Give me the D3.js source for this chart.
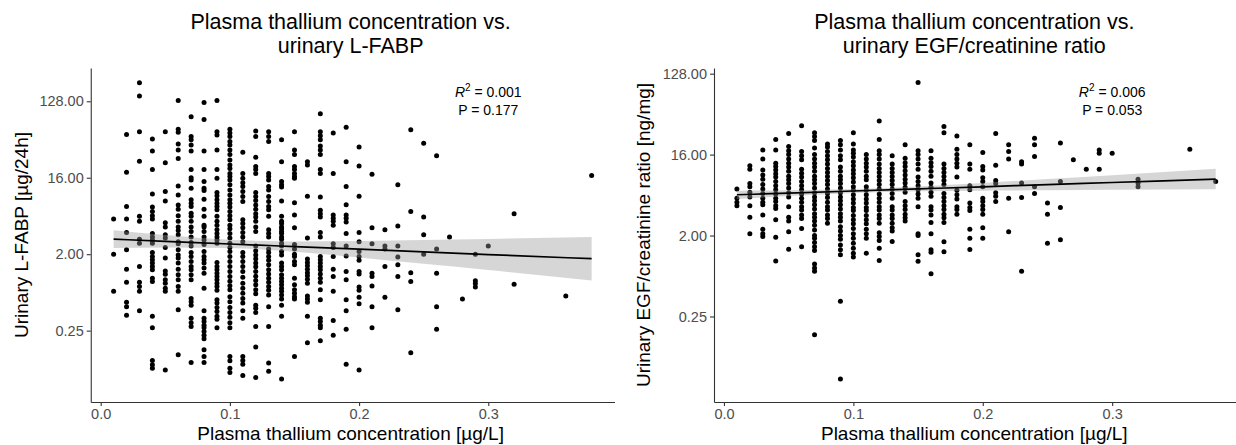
<!DOCTYPE html>
<html><head><meta charset="utf-8">
<script src="https://cdn.jsdelivr.net/npm/d3@7"></script>
<style>
body{margin:0;background:#fff}
text{font-family:"Liberation Sans",Arial,Helvetica,sans-serif}
</style>
</head><body>
<svg id="chart" width="1236" height="445"></svg>
<script>
// ---------- DATA ----------
const xTicks = [0, 0.1, 0.2, 0.3];
const yTicks = [0.25, 2, 16, 128];

// Plasma thallium concentration columns (µg/L)
const thallium = [0.01,0.02,0.03,0.04,0.05,0.06,0.07,0.08,0.09,0.10,0.11,0.12,0.13,0.14,0.15,0.16,0.17,0.18,0.19,0.20,0.21,0.22,0.23,0.24,0.25,0.26,0.27,0.28,0.29,0.30,0.32,0.36,0.38];

// Urinary L-FABP [µg/24h] per thallium column
const lfabp = [
 [5.2,2.0,0.73],
 [52,18.6,7.3,5.2,3.6,2.25,1.33,0.93,0.54,0.48,0.38],
 [212,148,56,25,5.6,4.9,3.0,2.7,1.43,0.93,0.83,0.73,0.43],
 [46,33,20,10.3,7.2,6.4,5.7,5.2,3.5,3.2,2.95,2.7,2.1,1.88,1.72,1.57,1.43,1.31,1.04,0.95,0.37,0.27,0.111,0.099,0.09],
 [56,24,11,8.5,4.7,4.2,3.4,3.1,2.4,1.8,1.27,1.16,1.0,0.91,0.79,0.73,0.086],
 [131,60,55,40,34,27,12.8,10,7.6,6.8,5.7,4.9,4.2,3.8,3.4,2.8,2.65,2.25,1.96,1.8,1.57,1.33,1.14,1.0,0.83,0.73,0.44,0.13],
 [84,49,45,39,33,20,16,15,12,8.8,8,7.3,6.1,5.6,4.9,4.2,3.7,3.2,2.75,2.5,2.1,1.88,1.64,1.43,1.31,1.14,1.0,0.6,0.55,0.5,0.35,0.31,0.28,0.105],
 [124,78,33,20,14.4,12,11.3,8.9,6.8,5.6,4.4,4.2,3.7,3.2,2.95,2.6,2.15,1.88,1.72,1.57,1.37,1.19,0.79,0.43,0.35,0.32,0.29,0.27,0.245,0.22,0.2,0.149,0.124,0.105],
 [131,56,51,34,20,15.8,10.7,9.8,8.8,8,7.3,6.7,5.6,4.9,4.4,3.9,3.5,3.2,2.95,2.7,1.6,1.43,1.31,1.19,1.09,1.0,0.91,0.83,0.75,0.58,0.53,0.47,0.42,0.37,0.34,0.27],
 [60,54,49,43,39,34,30,26,22.6,20.6,18,16.6,15,13.2,11.5,10,8.8,8,7.2,6.4,5.7,5.1,4.4,4.0,3.5,3.1,2.7,2.4,2.15,1.88,1.64,1.43,1.25,1.09,0.96,0.85,0.76,0.63,0.55,0.47,0.41,0.36,0.31,0.27,0.124,0.11,0.09,0.08],
 [32,18,15.8,14,12.6,11,9.6,8.4,5.1,4.6,4.1,3.6,3.2,2.8,2.1,1.88,1.64,1.43,1.25,1.07,0.91,0.79,0.69,0.6,0.53,0.43,0.35,0.124,0.111,0.1,0.074],
 [57,49,28,21.7,20,18,10.7,9.6,8.6,7.6,6.8,6.0,5.5,4.9,4.2,3.7,2.5,2.2,1.96,1.77,1.57,1.42,1.25,1.1,0.98,0.87,0.76,0.68,0.5,0.46,0.41,0.28,0.16,0.07],
 [56,49,43,18,16.6,15,12.6,11.5,9.6,8.4,7.3,6.7,5.6,3.9,3.5,3.2,2.3,2.1,1.88,1.7,1.5,1.31,1.17,1.04,0.93,0.83,0.75,0.66,0.48,0.28,0.104,0.083],
 [45,24.7,14.4,13.2,12.4,8.5,5.6,4.9,4.6,4.2,4.0,3.7,3.5,3.2,3.0,2.7,2.5,2.15,1.96,1.57,1.43,1.31,1.14,1.04,0.95,0.87,0.79,0.73,0.66,0.59,0.5,0.37,0.067],
 [56,34,30,21.7,20,18,16.6,15.8,8.1,5.8,4.1,2.6,2.3,2.0,1.88,1.64,1.5,1.04,0.87,0.76,0.69,0.63,0.59,0.124],
 [24.7,22.6,9.7,3.1,1.75,1.6,1.46,1.33,1.21,1.11,1.01,0.91,0.64,0.59,0.54,0.37,0.18],
 [91,56,50,45,38,34,30,20,18,9.5,6.6,6.0,5.5,3.6,3.2,1.88,1.72,1.57,1.43,1.31,1.17,1.04,0.93,0.76,0.58,0.35,0.32,0.29,0.27,0.19],
 [54,18,5.8,5.3,4.9,4.4,2.65,2.4,1.88,1.33,1.09,0.73,0.33,0.22],
 [63,24.7,12.6,7.7,5.8,5.3,4.8,3.5,2.5,1.9,1.25,1.0,0.58,0.43,0.26,0.1],
 [37,22,9.7,3.6,2.8,2.15,1.88,1.7,1.25,1.17,0.82,0.75,0.62,0.52,0.086],
 [17.6,4.1,2.65,1.19,1.09,0.84,0.48,0.27],
 [3.9,2.5,2.3,1.43,0.62],
 [13.2,4.3,2.5,1.85,1.5,1.09,0.44],
 [59,6.4,1.21,0.95,0.137],
 [41,5.5,3.4,2.0],
 [29,2.3,1.19,0.48,0.26],
 [3.2],
 [0.59],
 [2.0,0.97,0.9,0.82],
 [2.5],
 [6.0,0.88],
 [0.64],
 [17]
];

// Urinary EGF/creatinine ratio [ng/mg] per thallium column
const egf = [
 [6.6,5.2,4.7,4.3],
 [12,11,7.6,7.0,6.1,5.4,4.3,3.2,2.1],
 [18,14.3,10.8,9.5,8.5,7.4,6.6,5.9,5.2,4.7,4.4,3.4,2.35,2.1,1.95],
 [23.6,18,12.8,11.8,10.8,9.8,9.0,8.0,7.2,6.5,5.8,5.2,4.8,4.3,4.0,3.0,1.92,1.04],
 [27.6,19.7,17.7,16,14.3,12.8,11.6,10.4,9.2,8.4,7.6,6.8,6.0,5.4,4.2,3.2,2.9,2.2,1.41],
 [33.6,17.3,15.5,14,11,9.9,9.0,8.0,7.2,6.5,5.8,5.2,4.7,4.2,3.85,3.4,3.1,2.4,1.5],
 [28,25.4,23,18.9,16,14.3,12.8,11.6,10.4,9.2,8.4,7.6,6.8,6.0,5.4,4.9,4.4,3.95,3.5,3.2,2.9,2.6,2.3,2.0,1.87,1.67,1.5,1.36,0.96,0.87,0.8,0.156],
 [21,19.4,17.3,15.5,14,12.6,11.2,10.1,9.1,8.2,7.4,6.6,5.9,5.3,4.7,4.2,3.85,3.4,3.1,2.75],
 [23,20.6,18,15.5,14,11.6,10.4,9.2,8.4,7.6,6.8,6.0,5.4,4.9,4.4,3.95,3.5,3.2,2.9,2.5,2.25,2.0,1.82,1.57,1.39,1.22,0.37,0.05],
 [28,21,18,16.6,15,13.3,12,10.8,9.8,8.8,7.9,7.0,6.4,5.7,5.1,4.6,4.1,3.8,3.35,3.0,2.7,2.4,2.1,1.87,1.64,1.44,1.27,1.15],
 [16,14.3,12.8,11.6,10.4,9.2,8.4,7.0,6.4,5.7,5.1,4.6,4.1,3.8,3.35,3.0,2.7,2.35,2.1,1.87,1.27],
 [38,23.6,17.7,16,14.3,12.6,11.2,10.1,9.1,8.2,7.4,6.6,5.8,5.2,4.7,4.2,3.85,3.4,3.1,2.75,2.15,1.95,1.76,1.44,1.05],
 [15.5,12.6,11.2,10.1,9.1,8.2,7.4,6.6,5.9,5.2,4.2,3.85,3.4,3.1,2.75,2.45,2.25,1.72],
 [20.6,14.6,13,11.8,10.6,9.5,8.5,7.7,6.9,6.1,4.8,4.3,3.9,3.45,3.15,2.9],
 [102,17.7,16,14.3,12.6,11,9.0,8.0,7.2,6.5,5.8,5.2,4.2,2.1,2.0,1.22,1.03],
 [17.7,14.6,13,11.8,10.4,9.2,7.7,6.9,6.1,5.5,4.2,3.85,3.4,2.8,2.1,1.39,1.3,0.75],
 [33,28,12.6,11.2,10.1,9.1,8.2,7.4,5.9,5.3,4.8,4.3,3.9,3.45,3.15,2.8,1.71,1.32],
 [25.8,18.3,16,14.3,12.8,11.6,9.0,6.4,5.7,5.1,4.2,3.9,3.45],
 [20.6,12.6,11,7.2,6.5,4.6,4.1,3.8,2.35,1.87,1.4],
 [16.9,11.8,10.8,8.8,8.0,7.0,5.2,4.8,4.3,3.9,3.45,2.45,1.87],
 [27.6,12.2,8.2,7.6,6.0,5.5,4.8],
 [20.6,17.3,14.3,5.2,2.2],
 [13.3,12.6,7.7,5.3,0.8],
 [24.3,20.6,15.2,7.0,5.9],
 [4.6,3.45,1.64],
 [21.6,8.0,4.1,1.79],
 [14],
 [11],
 [18,16.6,11],
 [16.6],
 [8.5,7.7,7.0],
 [18.3],
 [8.0]
];

// Fitted regression lines with 95% confidence bands
const fitX = [0.01,0.05,0.10,0.15,0.20,0.25,0.30,0.38];
const lfabpFit = [3.01,2.84,2.64,2.46,2.29,2.13,1.98,1.77];
const lfabpLo  = [2.36,2.40,2.36,2.14,1.83,1.54,1.30,0.975];
const lfabpHi  = [3.84,3.37,2.96,2.83,2.86,2.94,3.03,3.20];
const egfFit = [5.70,5.95,6.28,6.63,7.00,7.40,7.81,8.52];
const egfLo  = [5.12,5.52,5.98,6.24,6.34,6.41,6.47,6.55];
const egfHi  = [6.34,6.42,6.60,7.06,7.73,8.53,9.43,11.09];

const panels = [
  {title:["Plasma thallium concentration vs.","urinary L-FABP"],
   yLabel:"Urinary L-FABP [µg/24h]", ys:lfabp, fit:lfabpFit, lo:lfabpLo, hi:lfabpHi,
   r2:"0.001", p:"0.177",
   xr:[90.75,614.5], yDom:[Math.pow(2,-4.8),Math.pow(2,8.306)], yLabX:21},
  {title:["Plasma thallium concentration vs.","urinary EGF/creatinine ratio"],
   yLabel:"Urinary EGF/creatinine ratio [ng/mg]", ys:egf, fit:egfFit, lo:egfLo, hi:egfHi,
   r2:"0.006", p:"0.053",
   xr:[714,1238.6], yDom:[Math.pow(2,-5.17),Math.pow(2,7.21)], yLabX:643}
];

// ---------- DRAW ----------
const svg = d3.select("#chart");
const yTop = 68, yBot = 402;
const xDom = [-0.0077, 0.3977];

panels.forEach(pn => {
  const x = d3.scaleLinear().domain(xDom).range(pn.xr);
  const y = d3.scaleLog().base(2).domain(pn.yDom).range([yBot, yTop]);
  const g = svg.append("g");

  // points
  const pts = [];
  thallium.forEach((t,i) => pn.ys[i].forEach(v => pts.push([t,v])));
  g.append("g").selectAll("circle").data(pts).join("circle")
    .attr("cx", d => x(d[0])).attr("cy", d => y(d[1])).attr("r", 2.5).attr("fill", "#000");

  // confidence band
  const band = fitX.map((t,i) => ({t, lo:pn.lo[i], hi:pn.hi[i], f:pn.fit[i]}));
  g.append("path").datum(band)
    .attr("d", d3.area().x(d => x(d.t)).y0(d => y(d.lo)).y1(d => y(d.hi)).curve(d3.curveMonotoneX))
    .attr("fill", "#999999").attr("fill-opacity", 0.4);
  g.append("path").datum(band)
    .attr("d", d3.line().x(d => x(d.t)).y(d => y(d.f)).curve(d3.curveMonotoneX))
    .attr("fill", "none").attr("stroke", "#000").attr("stroke-width", 1.7);

  // axes
  const ax = g.append("g").attr("transform", `translate(0,${yBot})`)
    .call(d3.axisBottom(x).tickValues(xTicks).tickFormat(d3.format(".1f")).tickSize(4).tickSizeOuter(0).tickPadding(3));
  const ay = g.append("g").attr("transform", `translate(${pn.xr[0]},0)`)
    .call(d3.axisLeft(y).tickValues(yTicks).tickFormat(d => d.toFixed(2)).tickSize(4).tickSizeOuter(0).tickPadding(3));
  [ax, ay].forEach(a => {
    a.select(".domain").attr("stroke", "#333").attr("stroke-width", 1.1);
    a.selectAll(".tick line").attr("stroke", "#333").attr("stroke-width", 1.1);
    a.selectAll(".tick text").attr("fill", "#4D4D4D").style("font-size", "14.5px")
      .style("font-family", '"Liberation Sans",Arial,sans-serif');
  });

  const cx = (pn.xr[0] + pn.xr[1]) / 2;
  // titles
  g.append("text").attr("x", cx - 2).attr("y", 29).attr("text-anchor", "middle")
    .style("font-size", "21.5px").attr("fill", "#000").text(pn.title[0]);
  g.append("text").attr("x", cx - 2).attr("y", 53).attr("text-anchor", "middle")
    .style("font-size", "21.5px").attr("fill", "#000").text(pn.title[1]);
  // x label
  g.append("text").attr("x", cx - 2).attr("y", 440).attr("text-anchor", "middle")
    .style("font-size", "19px").attr("fill", "#000").text("Plasma thallium concentration [µg/L]");
  // y label
  g.append("text").attr("transform", `translate(${pn.yLabX + 7},${(yTop + yBot) / 2}) rotate(-90)`)
    .attr("text-anchor", "middle").style("font-size", "19px").attr("fill", "#000").text(pn.yLabel);

  // annotation
  const ann = g.append("text").attr("x", x(0.3)).attr("y", 97).attr("text-anchor", "middle")
    .style("font-size", "14px").attr("fill", "#000");
  ann.append("tspan").style("font-style", "italic").text("R");
  ann.append("tspan").attr("dy", -6).style("font-size", "10px").text("2");
  ann.append("tspan").attr("dy", 6).text(" = " + pn.r2);
  g.append("text").attr("x", x(0.3)).attr("y", 115).attr("text-anchor", "middle")
    .style("font-size", "14px").attr("fill", "#000").text("P = " + pn.p);
});
</script>
</body></html>
